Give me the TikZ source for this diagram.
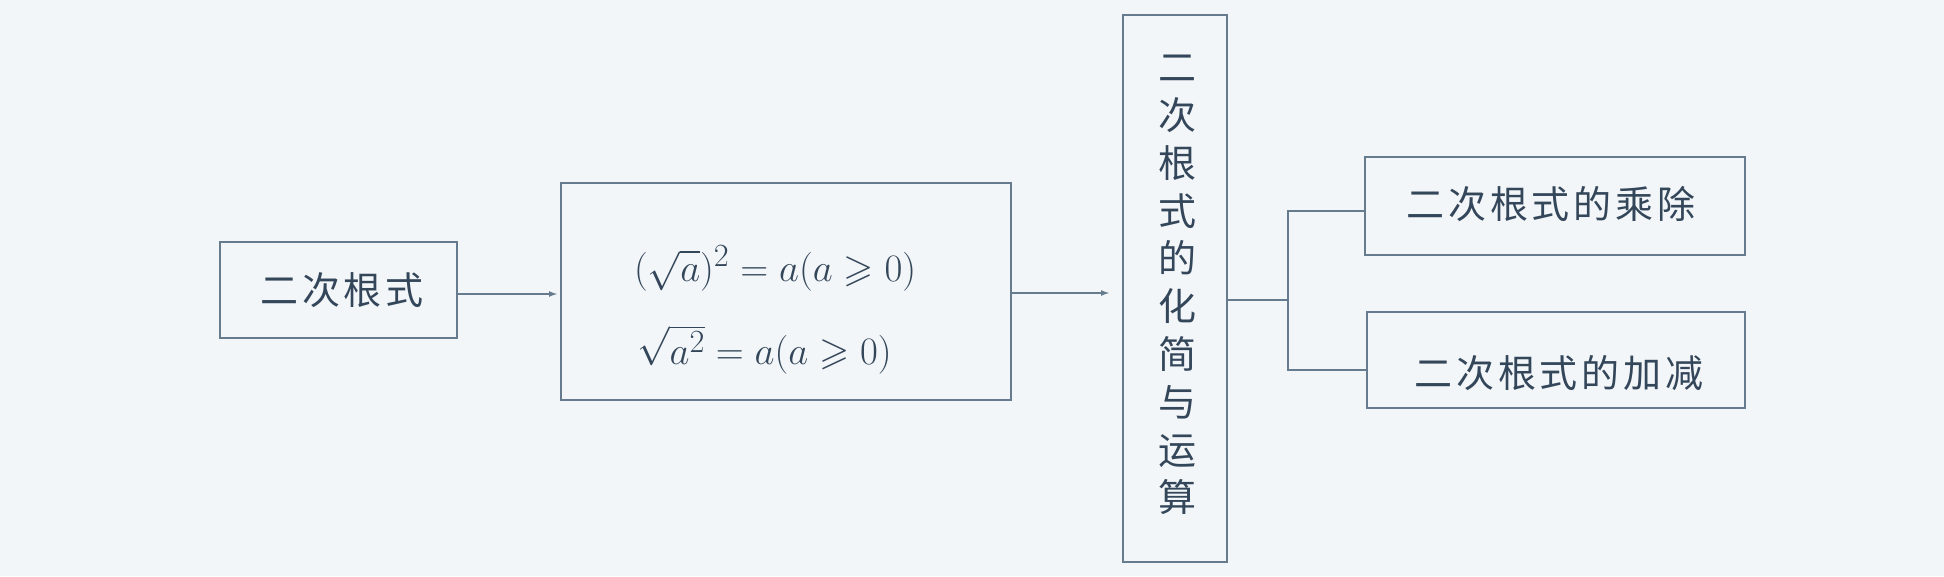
\documentclass[tikz,border=0pt]{standalone}
\usepackage{amssymb}
\usepackage{graphicx}
\usepackage{fontspec}
\newfontfamily\cjk{Noto Sans CJK SC}
\usetikzlibrary{arrows.meta}
\definecolor{bgcol}{HTML}{F3F6F9}
\definecolor{linecol}{HTML}{667C8E}
\definecolor{txtcol}{HTML}{34475A}
\tikzset{
  boxst/.style={draw=linecol, line width=2pt, inner sep=0pt, rectangle},
  lbl/.style={inner sep=0pt, text=txtcol},
  cjklbl/.style={lbl, font=\cjk\fontsize{38}{40}\selectfont\addfontfeature{LetterSpace=10}},
  mathlbl/.style={lbl, anchor=base west, font=\fontsize{24.88}{30}\selectfont},
  conn/.style={draw=linecol, line width=2pt},
  arr/.style={conn, -{Latex[length=9pt,width=6pt]}}
}
\begin{document}
\begin{tikzpicture}[x=1pt,y=-1pt]
\fill[bgcol] (0,0) rectangle (1944,576);
\useasboundingbox (0,0) rectangle (1944,576);
% boxes
\node[boxst, minimum width=237pt, minimum height=96pt] (box1) at (338.5,290) {};
\node[boxst, minimum width=450pt, minimum height=217pt] (box2) at (786,291.5) {};
\node[boxst, minimum width=104pt, minimum height=547pt] (box3) at (1175,288.5) {};
\node[boxst, minimum width=380pt, minimum height=98pt] (box4) at (1554.5,206) {};
\node[boxst, minimum width=378pt, minimum height=96pt] (box5) at (1556,360) {};
% texts
\node[cjklbl] (t1) at (342,290) {二次根式};
\node[mathlbl] (f1) at (634,281) {\scalebox{1.56}{$(\sqrt{a})^2=a(a\geqslant 0)$}};
\node[mathlbl] (f2) at (637,364) {\scalebox{1.56}{$\sqrt{a^2}=a(a\geqslant 0)$}};
\node[lbl, align=center, font=\cjk\fontsize{38}{47.8}\selectfont] (t3) at (1177,285) {二\\次\\根\\式\\的\\化\\简\\与\\运\\算};
\node[cjklbl] (t4) at (1551,203.5) {二次根式的乘除};
\node[cjklbl] (t5) at (1559,373) {二次根式的加减};
% connectors
\draw[arr] ([yshift=-4pt]box1.east) -- ([yshift=-2.5pt,xshift=-2pt]box2.west);
\draw[arr] ([yshift=-1.5pt]box2.east) -- ([yshift=-4.5pt,xshift=-12pt]box3.west);
\coordinate (jx) at (1288,0);
\coordinate (b3o) at ([yshift=-11.5pt]box3.east);
\coordinate (b4i) at ([yshift=-5pt]box4.west);
\coordinate (b5i) at ([yshift=-9.5pt]box5.west);
\draw[conn] (b3o) -- (jx |- b3o);
\draw[conn] (b4i) -- (jx |- b4i) -- (jx |- b5i) -- (b5i);
\end{tikzpicture}
\end{document}
